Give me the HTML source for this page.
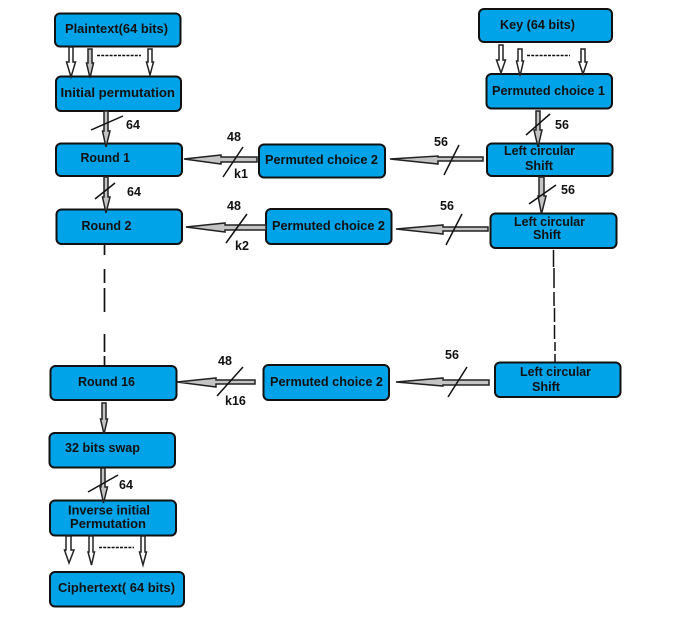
<!DOCTYPE html>
<html><head><meta charset="utf-8"><style>
html,body{margin:0;padding:0;background:#fff;width:680px;height:630px;overflow:hidden}
svg{display:block}
text{font-family:"Liberation Sans",sans-serif;font-weight:bold;font-size:13px;fill:#111}
.e{font-size:12.5px}
.b{fill:#00a2e8;stroke:#111;stroke-width:2}
.w{fill:#fff;stroke:#222;stroke-width:1.5}
.g{fill:#c4c4c4;stroke:#222;stroke-width:1.5}
.l{stroke:#111;stroke-width:1.5;fill:none}
</style></head><body>
<svg width="680" height="630" viewBox="0 0 680 630" xmlns="http://www.w3.org/2000/svg">
<!-- boxes -->
<rect class="b" x="55" y="13.500" width="125.500" height="33" rx="5"/>
<rect class="b" x="56" y="76.500" width="125" height="34.500" rx="5"/>
<rect class="b" x="56" y="143.500" width="126" height="32.500" rx="5"/>
<rect class="b" x="56.500" y="209.500" width="125.500" height="34.500" rx="5"/>
<rect class="b" x="50.500" y="366" width="126" height="34" rx="5"/>
<rect class="b" x="49.500" y="433" width="125.500" height="34.500" rx="5"/>
<rect class="b" x="50" y="500.500" width="126" height="35" rx="5"/>
<rect class="b" x="50" y="572" width="134" height="34.500" rx="5"/>
<rect class="b" x="479" y="9" width="133" height="33" rx="5"/>
<rect class="b" x="486.500" y="74" width="125.500" height="34.500" rx="5"/>
<rect class="b" x="487" y="143.500" width="125.500" height="32.500" rx="5"/>
<rect class="b" x="490.500" y="213.500" width="126" height="34.500" rx="5"/>
<rect class="b" x="495" y="362.500" width="125.500" height="34.500" rx="5"/>
<rect class="b" x="259" y="144.500" width="126" height="33" rx="5"/>
<rect class="b" x="266" y="209" width="125.500" height="35" rx="5"/>
<rect class="b" x="263.500" y="365" width="125.500" height="35" rx="5"/>

<!-- top-left small down arrows -->
<polygon class="w" points="69,47 73,47 73,62 75.500,62 71,77 66.500,62 69,62"/>
<polygon class="g" points="88,49 92,49 92,63 93.500,63 90,78 86.500,63 88,63"/>
<polygon class="w" points="148,49 152,49 152,62 153.500,62 150,75 146.500,62 148,62"/>
<line class="l" x1="97" y1="55.500" x2="141" y2="55.500" stroke-dasharray="3 1.200"/>
<!-- top-right small down arrows -->
<polygon class="w" points="499,45 503,45 503,60 505.500,60 501,73 496.500,60 499,60"/>
<polygon class="w" points="518,49 522,49 522,61 523.500,61 520,76 516.500,61 518,61"/>
<polygon class="w" points="581,49 585,49 585,62 587,62 583,74 579,62 581,62"/>
<line class="l" x1="527" y1="55.500" x2="570" y2="55.500" stroke-dasharray="3 1.200"/>
<!-- bottom small down arrows -->
<polygon class="w" points="66,536 71,536 71,550 74,550 69,563 64.500,550 66,550"/>
<polygon class="w" points="89,536 93,536 93,552 94.500,552 91.500,565 88,552 89,552"/>
<polygon class="w" points="141,536 145,536 145,552 146.500,552 143,565 139.500,552 141,552"/>
<line class="l" x1="99" y1="547.500" x2="134" y2="547.500" stroke-dasharray="3 1.200"/>

<!-- thick grey vertical arrows -->
<polygon class="g" points="104,111 108,111 108,131 110,131 106,147 102.500,131 104,131"/>
<polygon class="g" points="104,177 108,177 108,197 110,197 106,213 102.500,197 104,197"/>
<polygon class="g" points="102,403 106,403 106,419 107.500,419 104,434 100.500,419 102,419"/>
<polygon class="g" points="101,468 105,468 105,487 107.500,487 103.500,503 100,487 101,487"/>
<polygon class="g" points="536,111 540,111 540,130 542,130 538,147 534,130 536,130"/>
<polygon class="g" points="539,177 544,177 544,196 546,196 541.500,214 538,196 539,196"/>

<!-- horizontal arrows -->
<polygon class="g" points="184,159 221,155 221,157 257,157 257,162 221,162 221,164"/>
<polygon class="g" points="186,227 225,223 225,225 266,225 266,230 225,230 225,232"/>
<polygon class="g" points="177,382 216,378 216,380 255,380 255,384 216,384 216,387"/>
<polygon class="g" points="390,159 438,156 438,157 483,157 483,161 438,161 438,164"/>
<polygon class="g" points="396,229 443,225 443,227 488,227 488,231 443,231 443,234"/>
<polygon class="g" points="396,382 443,378 443,380 489,380 489,385 443,385 443,386"/>

<!-- slashes -->
<line class="l" x1="91" y1="130" x2="123" y2="116"/>
<line class="l" x1="95" y1="199" x2="115" y2="183"/>
<line class="l" x1="88" y1="492" x2="118" y2="475"/>
<line class="l" x1="526" y1="135" x2="550" y2="114"/>
<line class="l" x1="529" y1="204" x2="556" y2="185"/>
<line class="l" x1="223" y1="177" x2="243" y2="147"/>
<line class="l" x1="226" y1="243" x2="247" y2="214"/>
<line class="l" x1="217" y1="396" x2="243" y2="367"/>
<line class="l" x1="444" y1="175" x2="459" y2="145"/>
<line class="l" x1="446" y1="245" x2="462" y2="214"/>
<line class="l" x1="448" y1="397" x2="467" y2="367"/>

<!-- dashed connectors -->
<path d="M104.500 245V255M104.500 269V283M104.500 288V312M104.500 334V352M104.500 356V366" stroke="#111" stroke-width="1.700" fill="none"/>
<path d="M553.500 250V267M554 268V288M554 292V306M554.500 308V322M554.500 325V339M555 342V351M555 354V362" stroke="#111" stroke-width="1.500" fill="none"/>

<!-- box labels -->
<text x="65" y="33" textLength="103" lengthAdjust="spacingAndGlyphs">Plaintext(64 bits)</text>
<text x="60.500" y="97" textLength="114.500" lengthAdjust="spacingAndGlyphs">Initial permutation</text>
<text x="80.500" y="162" textLength="49.500" lengthAdjust="spacingAndGlyphs">Round 1</text>
<text x="81.500" y="230" textLength="50" lengthAdjust="spacingAndGlyphs">Round 2</text>
<text x="78" y="386" textLength="57" lengthAdjust="spacingAndGlyphs">Round 16</text>
<text x="65" y="452" textLength="75" lengthAdjust="spacingAndGlyphs">32 bits swap</text>
<text x="68" y="514.500" textLength="82" lengthAdjust="spacingAndGlyphs">Inverse initial</text>
<text x="70" y="528" textLength="76" lengthAdjust="spacingAndGlyphs">Permutation</text>
<text x="58" y="592" textLength="117" lengthAdjust="spacingAndGlyphs">Ciphertext( 64 bits)</text>
<text x="500" y="29" textLength="75" lengthAdjust="spacingAndGlyphs">Key (64 bits)</text>
<text x="492" y="95" textLength="113" lengthAdjust="spacingAndGlyphs">Permuted choice 1</text>
<text x="504" y="155" textLength="71" lengthAdjust="spacingAndGlyphs">Left circular</text>
<text x="525" y="170" textLength="28" lengthAdjust="spacingAndGlyphs">Shift</text>
<text x="514" y="226" textLength="71" lengthAdjust="spacingAndGlyphs">Left circular</text>
<text x="533" y="239" textLength="28" lengthAdjust="spacingAndGlyphs">Shift</text>
<text x="520" y="376" textLength="71" lengthAdjust="spacingAndGlyphs">Left circular</text>
<text x="532" y="391" textLength="28" lengthAdjust="spacingAndGlyphs">Shift</text>
<text x="265" y="164" textLength="113" lengthAdjust="spacingAndGlyphs">Permuted choice 2</text>
<text x="272" y="230" textLength="113" lengthAdjust="spacingAndGlyphs">Permuted choice 2</text>
<text x="270" y="386" textLength="113" lengthAdjust="spacingAndGlyphs">Permuted choice 2</text>

<!-- edge labels -->
<text class="e" x="126" y="129">64</text>
<text class="e" x="127" y="196">64</text>
<text class="e" x="119" y="489">64</text>
<text class="e" x="555" y="129">56</text>
<text class="e" x="561" y="194">56</text>
<text class="e" x="434" y="146">56</text>
<text class="e" x="440" y="210">56</text>
<text class="e" x="445" y="359">56</text>
<text class="e" x="227" y="141">48</text>
<text class="e" x="227" y="210">48</text>
<text class="e" x="218" y="365">48</text>
<text class="e" x="234" y="178">k1</text>
<text class="e" x="235" y="250">k2</text>
<text class="e" x="225" y="405">k16</text>
</svg>
</body></html>
